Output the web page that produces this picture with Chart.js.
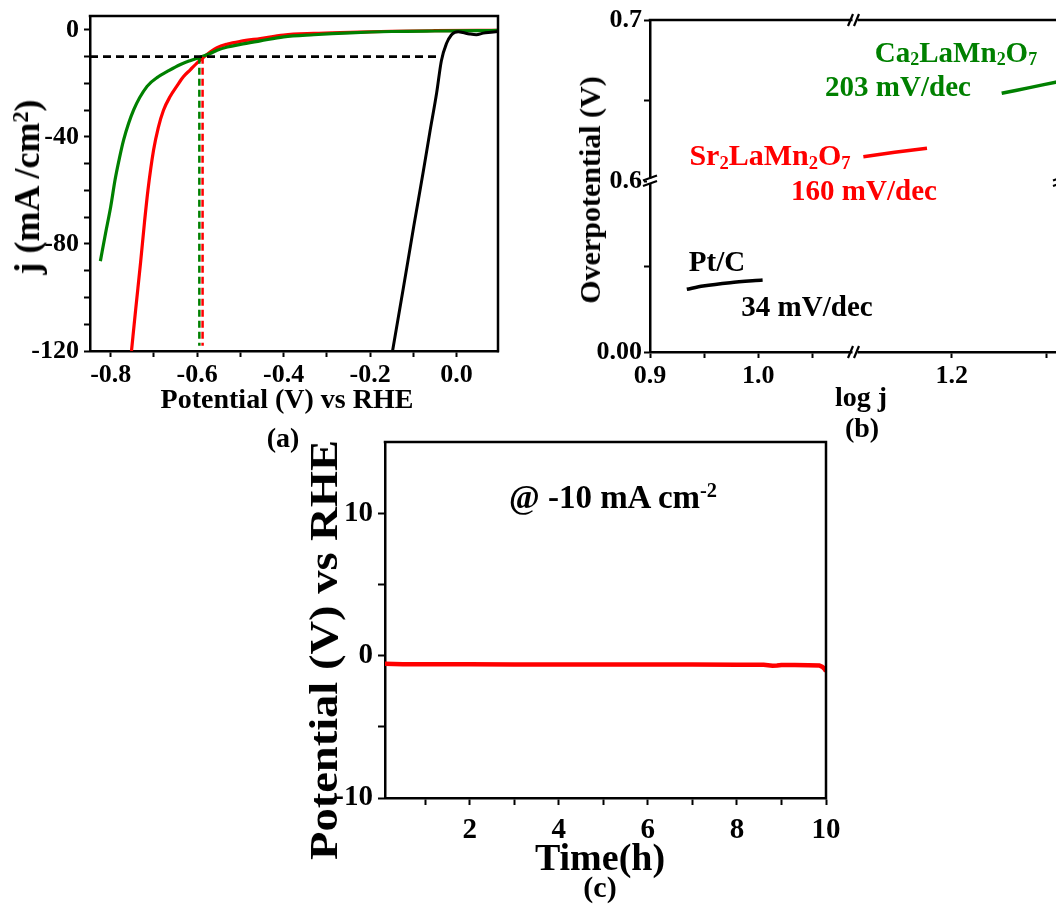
<!DOCTYPE html>
<html>
<head>
<meta charset="utf-8">
<script src="https://cdn.jsdelivr.net/npm/chart.js@4/dist/chart.umd.min.js"></script>
<style>
html,body{margin:0;padding:0;background:#fff;overflow:hidden;}
#wrap{position:relative;width:1056px;height:905px;overflow:hidden;background:#fff;
  font-family:"Liberation Serif","Times New Roman",serif;font-weight:bold;color:#000;}
canvas{position:absolute;}
.t{position:absolute;white-space:nowrap;line-height:1;transform:translate(-50%,-50%);}
.rot{transform:translate(-50%,-50%) rotate(-90deg);}
sub{font-size:0.62em;vertical-align:-0.22em;line-height:0;}
sup{font-size:0.62em;vertical-align:0.5em;line-height:0;}
.red{color:#ff0000;} .green{color:#008000;}
</style>
</head>
<body>
<div id="wrap">
  <canvas id="ca" width="520" height="450" style="left:0;top:0"></canvas>
  <canvas id="cb" width="520" height="445" style="left:560px;top:0"></canvas>
  <canvas id="cc" width="560" height="420" style="left:300px;top:430px"></canvas>

  <div class="t rot" style="left:27px;top:187px;font-size:36px">j (mA /cm<sup>2</sup>)</div>
  <div class="t" style="left:287px;top:399px;font-size:28px">Potential (V) vs RHE</div>
  <div class="t" style="left:283px;top:438px;font-size:28px">(a)</div>

  <div class="t rot" style="left:590px;top:190px;font-size:30px">Overpotential (V)</div>
  <div class="t" style="left:861px;top:397px;font-size:28px">log j</div>
  <div class="t" style="left:862px;top:428px;font-size:28px">(b)</div>
  <div class="t green" style="left:956px;top:52px;font-size:29px">Ca<sub>2</sub>LaMn<sub>2</sub>O<sub>7</sub></div>
  <div class="t green" style="left:898px;top:86px;font-size:29px">203 mV/dec</div>
  <div class="t red" style="left:770px;top:155px;font-size:30px">Sr<sub>2</sub>LaMn<sub>2</sub>O<sub>7</sub></div>
  <div class="t red" style="left:864px;top:190px;font-size:29px">160 mV/dec</div>
  <div class="t" style="left:717px;top:261px;font-size:29px">Pt/C</div>
  <div class="t" style="left:807px;top:306px;font-size:29px">34 mV/dec</div>

  <div class="t" style="left:324px;top:650px;font-size:40px;transform:translate(-50%,-50%) rotate(-90deg) scaleX(1.163)">Potential (V) vs RHE</div>
  <div class="t" style="left:600px;top:857px;font-size:38px">Time(h)</div>
  <div class="t" style="left:600px;top:887px;font-size:30px">(c)</div>
  <div class="t" style="left:613px;top:497px;font-size:33px">@ -10 mA cm<sup>-2</sup></div>
</div>

<script>
// ---------------- Panel (a): LSV curves ----------------
const potA_Sr = [-0.752,-0.742,-0.731,-0.722,-0.714,-0.701,-0.690,-0.678,-0.663,-0.647,-0.632,-0.616,-0.600,-0.588,-0.570,-0.554,-0.530,-0.500,-0.454,-0.400,-0.330,-0.246,-0.150,-0.050,0.050,0.096];
const jA_Sr   = [-120,-104,-87,-72,-60,-45,-36.5,-30,-25,-21,-17.5,-14.9,-12.3,-10.6,-8.3,-6.6,-5.3,-4.3,-3.2,-1.9,-1.3,-0.9,-0.5,-0.3,-0.2,-0.2];
const potA_Ca = [-0.824,-0.812,-0.800,-0.790,-0.780,-0.770,-0.747,-0.716,-0.690,-0.670,-0.640,-0.615,-0.593,-0.570,-0.554,-0.530,-0.500,-0.454,-0.400,-0.330,-0.246,-0.150,-0.050,0.050,0.096];
const jA_Ca   = [-86.4,-76,-66,-56,-48,-41,-29.9,-21.1,-17.5,-15.6,-13.0,-11.4,-10.2,-8.8,-7.6,-6.4,-5.4,-4.1,-2.6,-1.8,-1.1,-0.6,-0.4,-0.3,-0.2];
const potA_Pt = [-0.148,-0.123,-0.099,-0.077,-0.062,-0.046,-0.035,-0.023,-0.012,-0.004,0.004,0.015,0.030,0.046,0.062,0.080,0.096];
const jA_Pt   = [-120,-96.5,-73.5,-53,-38.5,-23.6,-11.5,-5.0,-1.9,-0.9,-0.7,-1.0,-1.5,-1.8,-1.2,-0.9,-0.6];
const refCurrentA = -10;                 // mA/cm2 reference level
const refLineV_A  = [-0.848, -0.035];    // extent of dashed reference line
const onsetV_Ca   = -0.595;
const onsetV_Sr   = -0.5875;
const xTicksA  = [-0.8,-0.7,-0.6,-0.5,-0.4,-0.3,-0.2,-0.1,0.0];
const xLabelsA = ['-0.8','','-0.6','','-0.4','','-0.2','','0.0'];
const yTicksA  = [-120,-110,-100,-90,-80,-70,-60,-50,-40,-30,-20,-10,0];
const yLabelsA = ['-120','','','','-80','','','','-40','','','','0'];

// ---------------- Panel (b): Tafel plots ----------------
const logj_Pt = [0.934,0.949,0.974,1.004];
const eta_Pt  = [0.0367,0.0386,0.0405,0.0421];
const logj_Sr = [1.1535,1.170,1.187];
const eta_Sr  = [0.6151,0.6178,0.6203];
const logj_Ca = [1.2263,1.2410,1.2560];
const eta_Ca  = [0.6545,0.6580,0.6617];
const xTicksB1 = [0.9,0.95,1.0,1.05];   const xLabelsB1 = ['0.9','','1.0',''];
const xTicksB2 = [1.2,1.25];            const xLabelsB2 = ['1.2',''];
const yTicksBHi = [0.6,0.65,0.7];       const yLabelsBHi = ['0.6','','0.7'];
const yTicksBLo = [0,0.05];             const yLabelsBLo = ['0.00',''];

// ---------------- Panel (c): chronopotentiometry ----------------
const timeC = [0.1,0.5,1,2,3,4,5,6,7,8,8.6,8.8,8.9,9.0,9.3,9.6,9.85,9.92,9.97,10.0];
const potC  = [-0.58,-0.60,-0.61,-0.61,-0.62,-0.62,-0.63,-0.63,-0.63,-0.64,-0.65,-0.72,-0.70,-0.66,-0.66,-0.67,-0.70,-0.80,-0.95,-1.10];
const xTicksC  = [1,2,3,4,5,6,7,8,9,10];
const xLabelsC = ['','2','','4','','6','','8','','10'];
const yTicksC  = [-10,-5,0,5,10];
const yLabelsC = ['-10','','0','','10'];

// ---------------- helpers ----------------
const FONT = '"Liberation Serif","Times New Roman",serif';
const zip = (xs, ys) => xs.map((x, i) => ({x, y: ys[i]}));
const RED = '#ff0000', GREEN = '#008000', BLACK = '#000000';

function mkAxis(o) {
  const vertical = (o.pos === 'left' || o.pos === 'right');
  return Object.assign({
    type: 'linear', position: o.pos, min: o.min, max: o.max,
    afterBuildTicks: s => { s.ticks = o.ticks.map(v => ({value: v})); },
    afterFit: s => {
      if (vertical) s.width = o.size; else s.height = o.size;
      s.paddingLeft = s.paddingRight = s.paddingTop = s.paddingBottom = 0;
    },
    ticks: {
      callback: (v, i) => o.labels[i],
      font: {family: FONT, size: o.font, weight: 'bold', lineHeight: 1.2},
      color: '#000', padding: o.pad, autoSkip: false, maxRotation: 0, minRotation: 0
    },
    grid: {drawOnChartArea: false, drawTicks: true, tickLength: o.tickLen, tickWidth: 2, color: '#000', tickColor: '#000'},
    border: {display: true, color: '#000', width: 2.5}
  }, o.extra || {});
}

const framePlugin = {
  id: 'frame',
  afterDraw(chart) {
    const {ctx, chartArea: a} = chart;
    ctx.save();
    ctx.strokeStyle = '#000'; ctx.lineWidth = 2.5; ctx.lineCap = 'square';
    ctx.beginPath();
    ctx.moveTo(a.left, a.top); ctx.lineTo(a.right, a.top); ctx.lineTo(a.right, a.bottom);
    ctx.stroke();
    ctx.restore();
  }
};

const breakPlugin = {
  id: 'breaks',
  afterDraw(chart) {
    const {ctx, chartArea: a, scales} = chart;
    const yb = scales.yHigh.bottom;
    const xb = scales.x1.right;
    ctx.save();
    ctx.fillStyle = '#fff';
    ctx.strokeStyle = '#000'; ctx.lineWidth = 2.2;
    [a.left, a.right].forEach(x => {
      ctx.fillRect(x - 3, yb - 2.5, 6, 5);
      ctx.beginPath();
      ctx.moveTo(x - 7, yb - 0.5); ctx.lineTo(x + 7, yb - 5.5);
      ctx.moveTo(x - 7, yb + 5.0); ctx.lineTo(x + 7, yb + 0.0);
      ctx.stroke();
    });
    [a.top, a.bottom].forEach(y => {
      ctx.fillRect(xb - 2.5, y - 3, 5, 6);
      ctx.beginPath();
      ctx.moveTo(xb - 7, y + 6); ctx.lineTo(xb - 2, y - 6);
      ctx.moveTo(xb - 1, y + 6); ctx.lineTo(xb + 4, y - 6);
      ctx.stroke();
    });
    ctx.restore();
  }
};

const baseOpts = (padding) => ({
  responsive: false, animation: false, devicePixelRatio: 1, events: [],
  layout: {padding, autoPadding: false},
  plugins: {legend: {display: false}, tooltip: {enabled: false}, title: {display: false}}
});

// ---------------- Chart (a) ----------------
new Chart(document.getElementById('ca'), {
  type: 'scatter',
  data: {datasets: [
    {data: [{x: refLineV_A[0], y: refCurrentA}, {x: refLineV_A[1], y: refCurrentA}], showLine: true, borderColor: BLACK, borderWidth: 2.6, borderDash: [8, 5], pointRadius: 0},
    {data: [{x: onsetV_Ca, y: refCurrentA}, {x: onsetV_Ca, y: -118}], showLine: true, borderColor: GREEN, borderWidth: 2.5, borderDash: [7, 4], pointRadius: 0},
    {data: [{x: onsetV_Sr, y: refCurrentA}, {x: onsetV_Sr, y: -118}], showLine: true, borderColor: RED, borderWidth: 2.5, borderDash: [7, 4], pointRadius: 0},
    {data: zip(potA_Pt, jA_Pt), showLine: true, borderColor: BLACK, borderWidth: 3, pointRadius: 0, cubicInterpolationMode: 'monotone'},
    {data: zip(potA_Ca, jA_Ca), showLine: true, borderColor: GREEN, borderWidth: 3.2, pointRadius: 0, cubicInterpolationMode: 'monotone'},
    {data: zip(potA_Sr, jA_Sr), showLine: true, borderColor: RED, borderWidth: 3.2, pointRadius: 0, cubicInterpolationMode: 'monotone'}
  ]},
  options: Object.assign(baseOpts({left: 0, top: 16, right: 22, bottom: 0}), {
    scales: {
      x: mkAxis({pos: 'bottom', min: -0.848, max: 0.096, ticks: xTicksA, labels: xLabelsA, size: 99, font: 26, pad: 3, tickLen: 6}),
      y: mkAxis({pos: 'left', min: -120, max: 5.2, ticks: yTicksA, labels: yLabelsA, size: 90, font: 26, pad: 5, tickLen: 6})
    }
  }),
  plugins: [framePlugin]
});

// ---------------- Chart (b) ----------------
new Chart(document.getElementById('cb'), {
  type: 'scatter',
  data: {datasets: [
    {data: zip(logj_Pt, eta_Pt), xAxisID: 'x1', yAxisID: 'yLow', showLine: true, borderColor: BLACK, borderWidth: 3.5, pointRadius: 0, tension: 0.3},
    {data: zip(logj_Sr, eta_Sr), xAxisID: 'x2', yAxisID: 'yHigh', showLine: true, borderColor: RED, borderWidth: 3.5, pointRadius: 0, tension: 0.3},
    {data: zip(logj_Ca, eta_Ca), xAxisID: 'x2', yAxisID: 'yHigh', showLine: true, borderColor: GREEN, borderWidth: 3.5, pointRadius: 0, tension: 0.3}
  ]},
  options: Object.assign(baseOpts({left: 0, top: 20, right: 20, bottom: 0}), {
    scales: {
      x1: mkAxis({pos: 'bottom', min: 0.9, max: 1.0893, ticks: xTicksB1, labels: xLabelsB1, size: 93, font: 26, pad: 3, tickLen: 6, extra: {stack: 'xs', stackWeight: 1}}),
      x2: mkAxis({pos: 'bottom', min: 1.1491, max: 1.2570, ticks: xTicksB2, labels: xLabelsB2, size: 93, font: 26, pad: 3, tickLen: 6, extra: {stack: 'xs', stackWeight: 1}}),
      yLow: mkAxis({pos: 'left', min: 0, max: 0.1, ticks: yTicksBLo, labels: yLabelsBLo, size: 90, font: 26, pad: 2, tickLen: 6, extra: {stack: 'ys', stackWeight: 171}}),
      yHigh: mkAxis({pos: 'left', min: 0.6, max: 0.7, ticks: yTicksBHi, labels: yLabelsBHi, size: 90, font: 26, pad: 2, tickLen: 6, extra: {stack: 'ys', stackWeight: 161}})
    }
  }),
  plugins: [framePlugin, breakPlugin]
});

// ---------------- Chart (c) ----------------
new Chart(document.getElementById('cc'), {
  type: 'scatter',
  data: {datasets: [
    {data: zip(timeC, potC), showLine: true, borderColor: RED, borderWidth: 4.5, pointRadius: 0}
  ]},
  options: Object.assign(baseOpts({left: 0, top: 12, right: 34, bottom: 0}), {
    scales: {
      x: mkAxis({pos: 'bottom', min: 0.1, max: 10, ticks: xTicksC, labels: xLabelsC, size: 52, font: 29, pad: 8, tickLen: 7}),
      y: mkAxis({pos: 'left', min: -10, max: 15, ticks: yTicksC, labels: yLabelsC, size: 85, font: 29, pad: 5, tickLen: 7})
    }
  }),
  plugins: [framePlugin]
});
</script>
</body>
</html>
